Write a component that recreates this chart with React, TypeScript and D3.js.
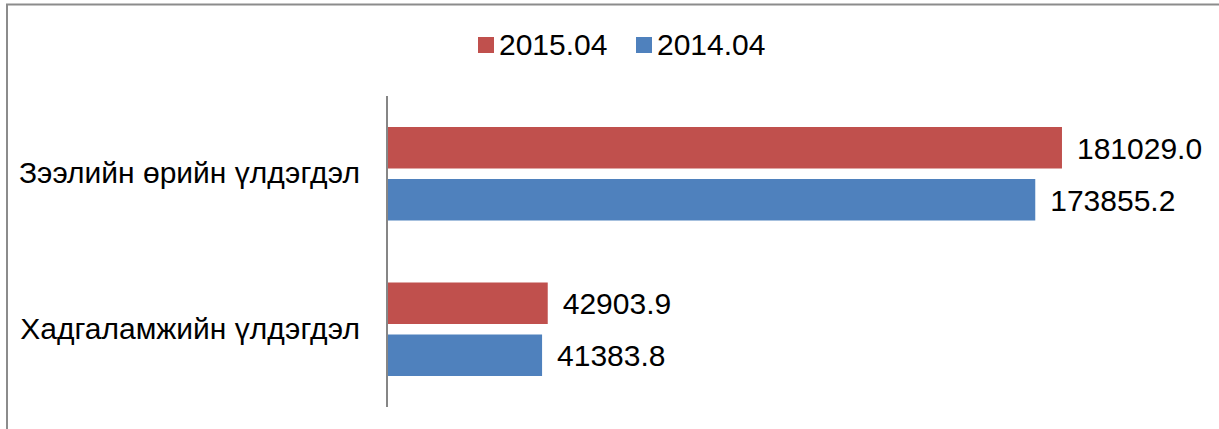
import React from "react";
import * as d3 from "d3";

const categories = ["Зээлийн өрийн үлдэгдэл", "Хадгаламжийн үлдэгдэл"];
const seriesNames = ["2015.04", "2014.04"];
const series2015 = [181029.0, 42903.9];
const series2014 = [173855.2, 41383.8];
const seriesColors = ["#C0504D", "#4F81BD"];

const W = 1219;
const H = 429;
const FONT = "Arial, 'Liberation Sans', Helvetica, sans-serif";

export default function App() {
  const x0 = 388;
  const x = d3.scaleLinear().domain([0, 200000]).range([x0, x0 + 744.6]);
  const y = d3.scaleBand().domain(categories).range([96, 407]).paddingInner(0).paddingOuter(0);
  const seriesValues = [series2015, series2014];
  const barH = 41.5;
  const barGap = 10.5;
  const groupH = barH * 2 + barGap;

  return (
    <svg
      width={W}
      height={H}
      style={{ position: "absolute", left: 0, top: 0, background: "#fff" }}
      fontFamily={FONT}
    >
      <rect x={7} y={4.5} width={W + 20} height={H + 20} fill="#fff" stroke="#8c8c8c" strokeWidth={2} />
      {/* legend */}
      {seriesNames.map((name, i) => {
        const lx = [478, 636][i];
        return (
          <g key={name}>
            <rect x={lx} y={37} width={16} height={16} fill={seriesColors[i]} />
            <text x={lx + 21} y={55} fontSize={30} fill="#000">{name}</text>
          </g>
        );
      })}
      {/* bars */}
      {categories.map((c, ci) => {
        const center = (y(c) as number) + y.bandwidth() / 2;
        const top = center - groupH / 2;
        return (
          <g key={c}>
            {seriesValues.map((vals, si) => {
              const by = top + si * (barH + barGap);
              const v = vals[ci];
              return (
                <g key={si}>
                  <rect x={x(0)} y={by} width={x(v) - x(0)} height={barH} fill={seriesColors[si]} />
                  <text x={x(v) + 15} y={by + barH / 2} dy="0.36em" fontSize={30} fill="#000">
                    {v.toFixed(1)}
                  </text>
                </g>
              );
            })}
            <text x={360} y={center - 1.5} dy="0.36em" fontSize={30} textAnchor="end" fill="#000">
              {c}
            </text>
          </g>
        );
      })}
      {/* axis */}
      <line x1={387} x2={387} y1={96} y2={407} stroke="#868686" strokeWidth={2} />
    </svg>
  );
}
